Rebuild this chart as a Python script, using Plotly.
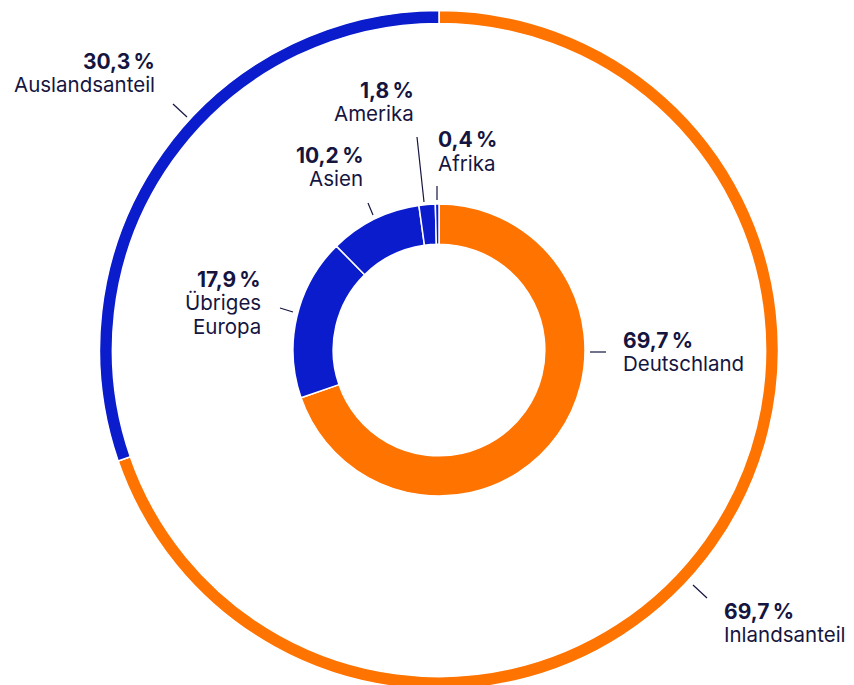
import plotly.graph_objects as go

# ---- data ----
outer_labels = ["Inlandsanteil", "Auslandsanteil"]
outer_values = [69.7, 30.3]
inner_labels = ["Deutschland", "Übriges<br>Europa", "Asien", "Amerika", "Afrika"]
inner_values = [69.7, 17.9, 10.2, 1.8, 0.4]

ORANGE = "#FF7300"
BLUE = "#0A1CCC"
NAVY = "#15153F"
outer_colors = [ORANGE, BLUE]
inner_colors = [ORANGE, BLUE, BLUE, BLUE, BLUE]

W, H = 854, 685
OFF = 8  # page body margin


def px(x):
    return (x - OFF) / W


def py(y):
    return (H - (y - OFF)) / H


def pct(v):
    return f"{v:.1f}".replace(".", ",") + "\u2009%"


CX, CY = 439, 350
R_OUT, R_IN = 339.5, 146

fig = go.Figure()
fig.add_trace(go.Pie(
    labels=outer_labels, values=outer_values, sort=False, direction="clockwise",
    rotation=0, hole=0.962, textinfo="none", hoverinfo="label+value",
    marker=dict(colors=outer_colors, line=dict(color="white", width=1.5)),
    domain=dict(x=[px(CX - R_OUT), px(CX + R_OUT)], y=[py(CY + R_OUT), py(CY - R_OUT)]),
    showlegend=False,
))
fig.add_trace(go.Pie(
    labels=inner_labels, values=inner_values, sort=False, direction="clockwise",
    rotation=0, hole=0.725, textinfo="none", hoverinfo="label+value",
    marker=dict(colors=inner_colors, line=dict(color="white", width=1.5)),
    domain=dict(x=[px(CX - R_IN), px(CX + R_IN)], y=[py(CY + R_IN), py(CY - R_IN)]),
    showlegend=False,
))

FONT = "Inter, Roboto, sans-serif"
FS_PCT = 21
FS_LBL = 20.5

# label blocks: (value, name lines, anchor x, first line y, xanchor)
blocks = [
    (outer_values[1], ["Auslandsanteil"], 157, 61, "right"),
    (outer_values[0], ["Inlandsanteil"], 722, 611, "left"),
    (inner_values[0], ["Deutschland"], 621, 340, "left"),
    (inner_values[1], ["Übriges", "Europa"], 263, 279, "right"),
    (inner_values[2], ["Asien"], 365, 155, "right"),
    (inner_values[3], ["Amerika"], 416, 90, "right"),
    (inner_values[4], ["Afrika"], 436, 140, "left"),
]
LINE = 23.5
annotations = []
for val, names, x, y0, xa in blocks:
    annotations.append(dict(
        x=px(x), y=py(y0), xref="paper", yref="paper", xanchor=xa, yanchor="middle",
        text=f"<b>{pct(val)}</b>", showarrow=False,
        font=dict(family=FONT, size=FS_PCT, color=NAVY),
    ))
    for i, n in enumerate(names):
        annotations.append(dict(
            x=px(x), y=py(y0 + LINE * (i + 1)), xref="paper", yref="paper",
            xanchor=xa, yanchor="middle", text=n, showarrow=False,
            font=dict(family=FONT, size=FS_LBL, color=NAVY),
        ))

leaders = [
    (173, 104, 187, 117),
    (693, 585, 707, 598),
    (590, 352, 606, 352),
    (280, 308, 293, 312),
    (368, 203, 373, 215),
    (417, 137, 424, 202),
    (437, 186, 437, 200),
]
shapes = [dict(type="line", xref="paper", yref="paper", x0=px(a), y0=py(b), x1=px(c), y1=py(d),
               line=dict(color=NAVY, width=1.2)) for a, b, c, d in leaders]

fig.update_layout(
    width=W, height=H, margin=dict(l=0, r=0, t=0, b=0),
    paper_bgcolor="white", plot_bgcolor="white",
    annotations=annotations, shapes=shapes,
)
fig.write_html("out.html")
